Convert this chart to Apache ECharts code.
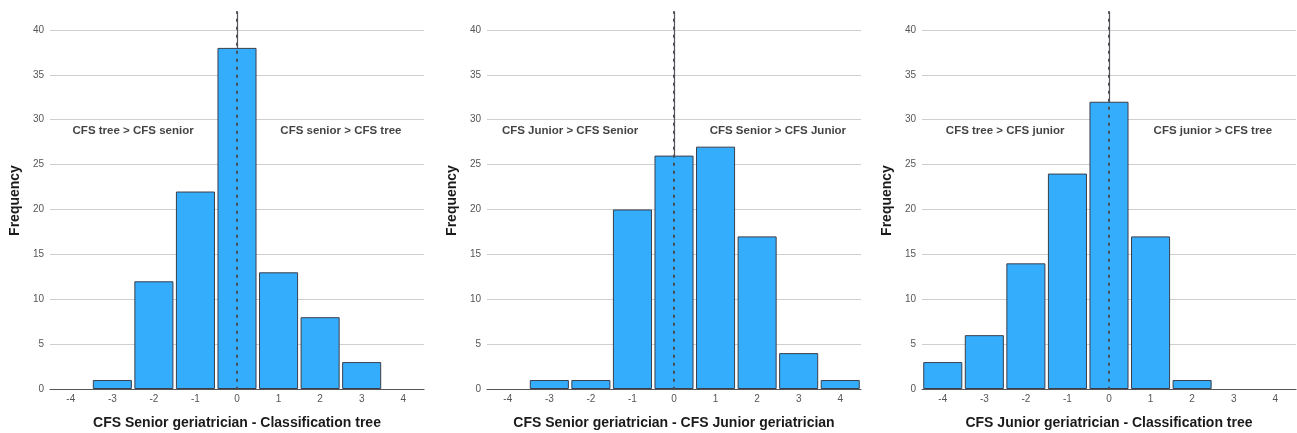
<!DOCTYPE html>
<html>
<head>
<meta charset="UTF-8">
<title>CFS difference histograms</title>
<script type="text/javascript" src="https://cdn.jsdelivr.net/npm/echarts@6/dist/echarts.min.js"></script>
<style>
  html, body { margin: 0; padding: 0; background: #fff; }
</style>
</head>

<body>
    <div id="main" style="width: 1297px;height:433px;"></div>
    <script type="text/javascript">
        // difference bins on the x axis
        var bins = ['-4', '-3', '-2', '-1', '0', '1', '2', '3', '4'];
        // frequency ticks on the y axis
        var yTicks = [0, 5, 10, 15, 20, 25, 30, 35, 40];

        // frequencies per panel
        var seniorVsTree = [0, 1, 12, 22, 38, 13, 8, 3, 0];
        var seniorVsJunior = [0, 1, 1, 20, 26, 27, 17, 4, 1];
        var juniorVsTree = [3, 6, 14, 24, 32, 17, 1, 0, 0];

        var xTitles = [
            'CFS Senior geriatrician - Classification tree',
            'CFS Senior geriatrician - CFS Junior geriatrician',
            'CFS Junior geriatrician - Classification tree'
        ];
        var leftNotes = ['CFS tree > CFS senior', 'CFS Junior > CFS Senior', 'CFS tree > CFS junior'];
        var rightNotes = ['CFS senior > CFS tree', 'CFS Senior > CFS Junior', 'CFS junior > CFS tree'];
        var notePos = [-2.5, 2.5]; // x of the two side notes
        var noteY = 28.8;

        var panels = [seniorVsTree, seniorVsJunior, juniorVsTree];
        var gridLefts = [50, 487, 922];

        var font = 'Liberation Sans, Arial, sans-serif';
        var option = { animation: false, grid: [], xAxis: [], yAxis: [], series: [] };

        panels.forEach(function (values, i) {
            option.grid.push({
                left: gridLefts[i], width: 374, top: 12, height: 377,
                containLabel: false, outerBoundsMode: 'none'
            });
            // category axis for the bars
            option.xAxis.push({
                type: 'category', gridIndex: i, data: bins,
                axisTick: { show: false },
                axisLine: { lineStyle: { color: '#555', width: 1.2 } },
                axisLabel: { color: '#555', fontSize: 10, margin: 5, fontFamily: font },
                name: xTitles[i], nameLocation: 'middle', nameGap: 27,
                nameTextStyle: { color: '#1a1a1a', fontSize: 14, fontWeight: 'bold', fontFamily: font }
            });
            option.yAxis.push({
                type: 'value', gridIndex: i, min: 0, max: 42,
                axisLine: { show: true, lineStyle: { color: '#555', width: 1.2 } },
                axisTick: { show: false, customValues: yTicks },
                axisLabel: { color: '#555', fontSize: 10, margin: 6, fontFamily: font, customValues: yTicks },
                splitLine: { lineStyle: { color: '#cfcfcf' } },
                name: 'Frequency', nameLocation: 'middle', nameGap: 28, nameRotate: 90,
                nameTextStyle: { color: '#1a1a1a', fontSize: 14, fontWeight: 'bold', fontFamily: font }
            });
            option.series.push({
                type: 'bar', xAxisIndex: i, yAxisIndex: i,
                data: values.map(function (v) {
                    return v === 0 ? { value: v, itemStyle: { borderWidth: 0 } } : v;
                }),
                barCategoryGap: '6%',
                itemStyle: { color: '#33adfc', borderColor: '#3b3f4c', borderWidth: 1 }
            });
        });

        // hidden value axes for the zero line and the side notes
        panels.forEach(function (values, i) {
            option.xAxis.push({ type: 'value', gridIndex: i, min: -4.5, max: 4.5, show: false });
            option.series.push({
                type: 'scatter', xAxisIndex: 3 + i, yAxisIndex: i, symbolSize: 0, z: 5,
                data: [
                    { name: leftNotes[i], value: [notePos[0], noteY] },
                    { name: rightNotes[i], value: [notePos[1], noteY] }
                ],
                label: {
                    show: true, position: 'inside', formatter: '{b}',
                    color: '#111', fontSize: 11.5, fontWeight: 'bold', fontFamily: font
                },
                markLine: {
                    silent: true, symbol: 'none', label: { show: false },
                    lineStyle: { color: '#4a4f5a', width: 2, type: [1.5, 6.5], cap: 'round' },
                    data: [{ xAxis: 0 }]
                }
            });
        });

        var myChart = echarts.init(document.getElementById('main'));
        myChart.setOption(option);
    </script>
</body>
</html>
